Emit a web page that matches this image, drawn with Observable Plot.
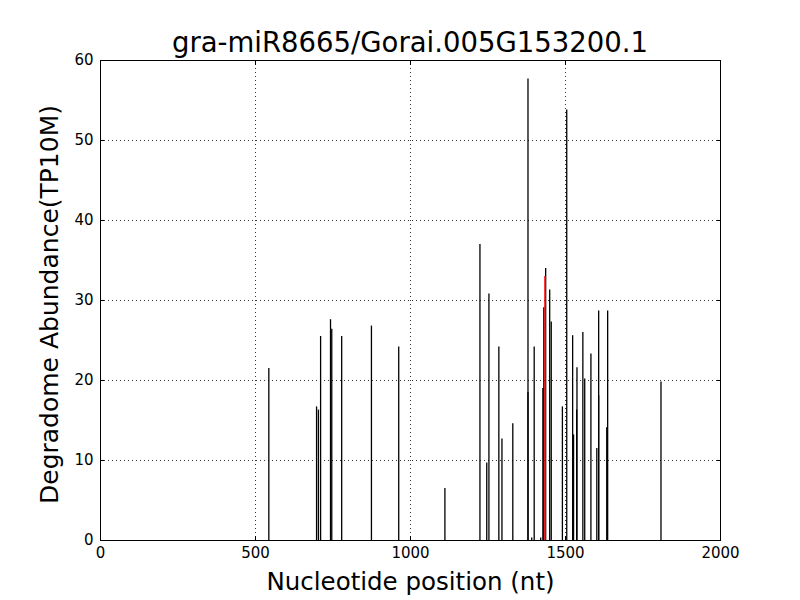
<!DOCTYPE html>
<html>
<head>
<meta charset="utf-8">
<script src="https://cdn.jsdelivr.net/npm/d3@7"></script>
<script src="https://cdn.jsdelivr.net/npm/@observablehq/plot@0.6"></script>
<style>
  body { margin: 0; background: #fff; }
  #wrap { position: relative; width: 800px; height: 600px; font-family: "DejaVu Sans", sans-serif; }
  #title { position: absolute; left: 100px; width: 620px; top: 26px; text-align: center; font-size: 27.5px; line-height: 32px; color: #000; }
</style>
</head>
<body>
<div id="wrap">
  <div id="title">gra-miR8665/Gorai.005G153200.1</div>
  <div id="chart"></div>
</div>
<script>
const title = "gra-miR8665/Gorai.005G153200.1";
const xLabel = "Nucleotide position (nt)";
const yLabel = "Degradome Abundance(TP10M)";
const xTicks = [0, 500, 1000, 1500, 2000];
const yTicks = [0, 10, 20, 30, 40, 50, 60];

// degradome peaks (black)
const positions = [543, 697, 703, 710, 742, 746, 778, 874, 962, 1111, 1224, 1246, 1253, 1285, 1295, 1330,
  1379, 1379, 1391, 1399, 1420, 1427, 1430, 1436, 1449, 1454, 1490, 1504, 1523, 1526, 1536, 1537,
  1556, 1562, 1582, 1601, 1607, 1607, 1633, 1636, 1808];
const abundances = [21.5, 16.7, 16.3, 25.5, 27.6, 26.4, 25.5, 26.8, 24.2, 6.5, 37.0, 9.7, 30.8, 24.2, 12.7, 14.6,
  57.7, 18.5, 0.3, 24.2, 0.3, 19.0, 29.1, 34.0, 31.3, 27.3, 16.7, 53.8, 25.6, 13.2, 16.3, 21.6,
  26.0, 20.2, 23.3, 11.5, 28.7, 18.1, 14.1, 28.7, 19.8];
// target site (red)
const sitePositions = [1434];
const siteAbundances = [33.0];

const peaks = positions.map((p, i) => ({x: p, y: abundances[i]}));
const site = sitePositions.map((p, i) => ({x: p, y: siteAbundances[i]}));

const chart = Plot.plot({
  width: 800,
  height: 600,
  marginTop: 60,
  marginBottom: 60,
  marginLeft: 100,
  marginRight: 80,
  style: {fontFamily: "DejaVu Sans, sans-serif", fontSize: "12px", color: "#000", background: "#fff", overflow: "visible"},
  x: {domain: [0, 2000]},
  y: {domain: [0, 60]},
  marks: [
    Plot.gridX(xTicks, {stroke: "#000", strokeOpacity: 1, strokeDasharray: "1,3", strokeWidth: 0.8}),
    Plot.gridY(yTicks, {stroke: "#000", strokeOpacity: 1, strokeDasharray: "1,3", strokeWidth: 0.8}),
    Plot.ruleX(peaks, {x: "x", y1: 0, y2: "y", stroke: "#000", strokeWidth: 1.3}),
    Plot.ruleX(site, {x: "x", y1: 0, y2: "y", stroke: "#ff0000", strokeWidth: 1.6}),
    Plot.frame({stroke: "#000", strokeWidth: 1}),
    Plot.axisX(xTicks, {anchor: "bottom", tickSize: 0, tickPadding: 7, fontSize: 15, tickFormat: d => String(d), label: null}),
    Plot.axisX(xTicks, {anchor: "bottom", tickSize: -4, text: null, label: null}),
    Plot.axisX(xTicks, {anchor: "top", tickSize: -4, text: null, label: null}),
    Plot.axisY(yTicks, {anchor: "left", tickSize: 0, tickPadding: 7, fontSize: 15, label: null}),
    Plot.axisY(yTicks, {anchor: "left", tickSize: -4, text: null, label: null}),
    Plot.axisY(yTicks, {anchor: "right", tickSize: -4, text: null, label: null}),
    Plot.text([xLabel], {frameAnchor: "bottom", dy: 49, fontSize: 24.5, textAnchor: "middle", text: d => d}),
    Plot.text([yLabel], {frameAnchor: "left", dx: -51, dy: 4, rotate: -90, fontSize: 25, textAnchor: "middle", text: d => d})
  ]
});
document.getElementById("chart").appendChild(chart);
</script>
</body>
</html>
